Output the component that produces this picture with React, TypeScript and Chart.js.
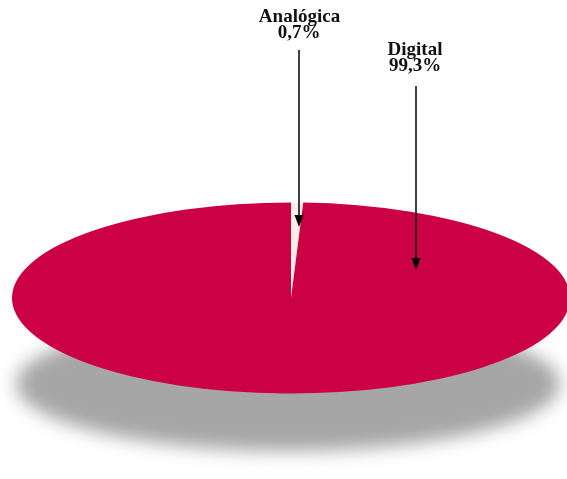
import React, { useEffect, useRef } from "react";
import { Chart, registerables } from "chart.js";

Chart.register(...registerables);

const categories = ["Analógica", "Digital"];
const values = [0.7, 99.3];
const valueLabels = ["0,7%", "99,3%"];
const sliceColors = ["#FBEDE8", "#CC0044"];

const W = 567;
const H = 479;

const ellipsePlugin = {
  id: "ellipsePie",
  beforeDatasetsDraw(chart: any) {
    const ctx = chart.ctx as CanvasRenderingContext2D;
    const meta = chart.getDatasetMeta(0);
    const arc = meta.data[0];
    const cx0 = arc.x;
    const cy0 = arc.y;
    const r = arc.outerRadius;
    ctx.save();
    // shadow
    ctx.save();
    ctx.filter = "blur(9px)";
    ctx.fillStyle = "#a6a6a6";
    ctx.beginPath();
    ctx.ellipse(288, 384, 272, 67, 0, 0, Math.PI * 2);
    ctx.fill();
    ctx.restore();
    // flatten pie into ellipse
    ctx.translate(291, 298);
    ctx.scale(279 / r, 95.5 / r);
    ctx.translate(-cx0, -cy0);
  },
  afterDatasetsDraw(chart: any) {
    const ctx = chart.ctx as CanvasRenderingContext2D;
    ctx.restore();
    const drawArrow = (x: number, y1: number, y2: number) => {
      ctx.save();
      ctx.strokeStyle = "#000";
      ctx.fillStyle = "#000";
      ctx.lineWidth = 1.5;
      ctx.beginPath();
      ctx.moveTo(x, y1);
      ctx.lineTo(x, y2 - 10);
      ctx.stroke();
      ctx.beginPath();
      ctx.moveTo(x - 4.5, y2 - 12);
      ctx.lineTo(x + 4.5, y2 - 12);
      ctx.lineTo(x, y2);
      ctx.closePath();
      ctx.fill();
      ctx.restore();
    };
    ctx.save();
    ctx.fillStyle = "#111";
    ctx.font = "bold 19px 'Liberation Serif', 'Times New Roman', serif";
    ctx.textAlign = "center";
    ctx.textBaseline = "alphabetic";
    ctx.fillText(categories[0], 299.5, 21.5);
    ctx.fillText(valueLabels[0], 299, 38);
    ctx.fillText(categories[1], 415, 54.5);
    ctx.fillText(valueLabels[1], 415, 71);
    ctx.restore();
    drawArrow(299, 50, 227);
    drawArrow(416, 86, 270);
  },
};

export default function App() {
  const ref = useRef<HTMLCanvasElement>(null);
  useEffect(() => {
    document.body.style.margin = "0";
    const chart = new Chart(ref.current!, {
      type: "pie",
      data: {
        labels: categories,
        datasets: [
          {
            data: values,
            backgroundColor: sliceColors,
            borderWidth: 0,
            clip: false,
          } as any,
        ],
      },
      options: {
        responsive: false,
        animation: false,
        rotation: 0,
        plugins: {
          legend: { display: false },
          tooltip: { enabled: false },
        },
        layout: { padding: 0 },
      },
      plugins: [ellipsePlugin],
    });
    return () => chart.destroy();
  }, []);
  return (
    <div style={{ width: W, height: H }}>
      <canvas ref={ref} width={W} height={H} style={{ display: "block" }} />
    </div>
  );
}
